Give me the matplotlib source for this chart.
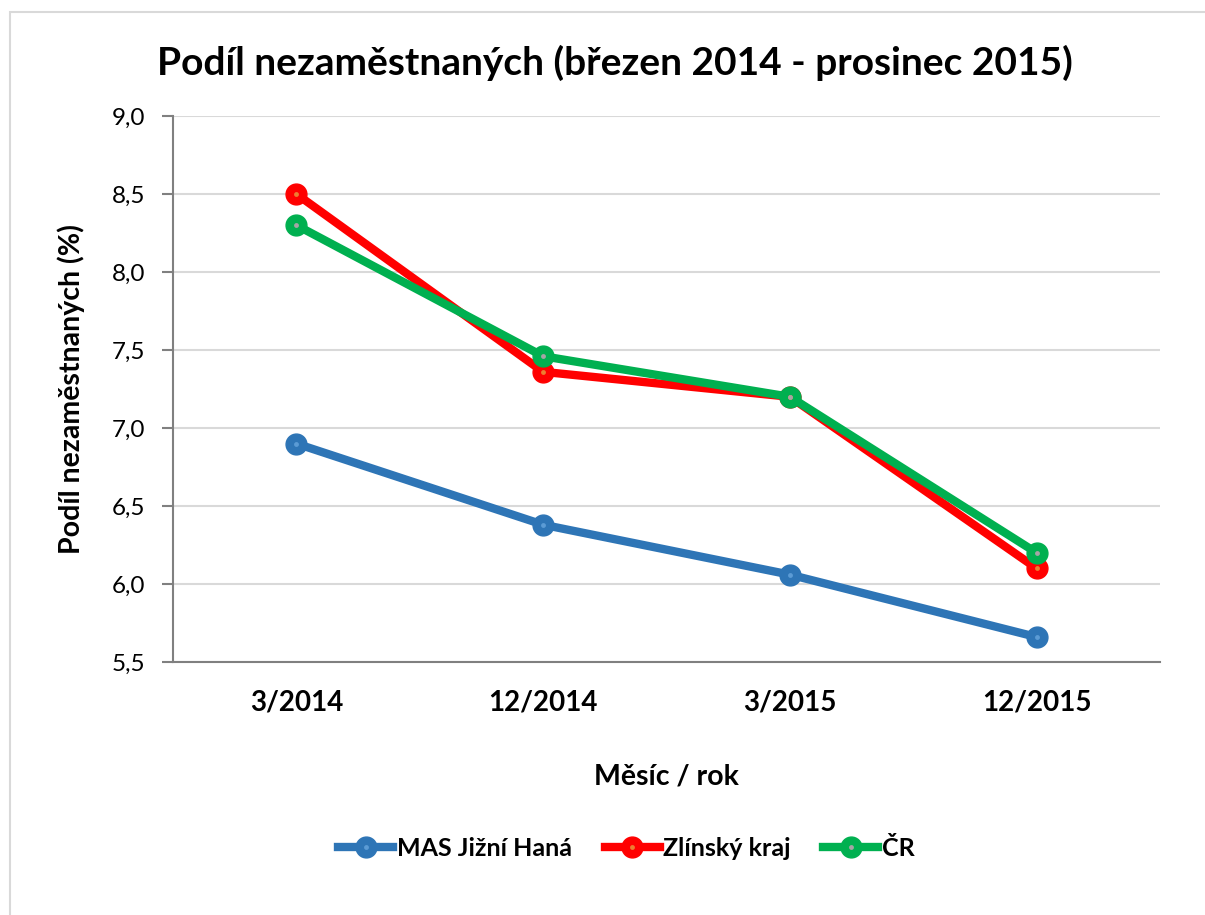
import numpy as np
import matplotlib.pyplot as plt
from matplotlib.patches import Rectangle
from matplotlib.lines import Line2D

plt.rcParams['font.family'] = ['Lato', 'DejaVu Sans']

# data
months = ["3/2014", "12/2014", "3/2015", "12/2015"]
mas = [6.9, 6.38, 6.06, 5.66]
zlin = [8.5, 7.36, 7.2, 6.1]
cr = [8.3, 7.46, 7.2, 6.2]
names = ["MAS Jižní Haná", "Zlínský kraj", "ČR"]
colors = ["#2E75B6", "#FF0000", "#00B050"]
dots = ["#5B9BD5", "#ED7D31", "#A5A5A5"]

fig = plt.figure(figsize=(12.05, 9.15), dpi=100)
fig.patches.append(Rectangle((0.008, -0.01), 1.1, 0.997, transform=fig.transFigure,
                             fill=False, edgecolor="#D9D9D9", linewidth=1.5))
ax = fig.add_axes([0.1436, 0.2765, 0.8191, 0.5967])

x = np.arange(len(months))
for vals, c, d in zip([mas, zlin, cr], colors, dots):
    ax.plot(x, vals, color=c, lw=6, marker="o", ms=15, mfc=c, mec=c,
            solid_capstyle="round", zorder=3)
    ax.plot(x, vals, ls="none", marker="o", ms=3.5, mfc=d, mec="none", zorder=4)

yt = np.arange(5.5, 9.01, 0.5)
ax.set_xlim(-0.5, 3.5)
ax.set_ylim(5.5, 9.0)
ax.set_yticks(yt)
ax.set_yticklabels([f"{v:.1f}".replace(".", ",") for v in yt], fontsize=17.5)
ax.set_xticks(x)
ax.set_xticklabels(months, fontsize=20, fontweight="bold")
ax.tick_params(axis="x", length=0, pad=20)
ax.tick_params(axis="y", length=8, color="#808080", width=1.5, pad=12)
ax.grid(axis="y", color="#D9D9D9", lw=1.5)
ax.set_axisbelow(True)
for s in ["top", "right"]:
    ax.spines[s].set_visible(False)
for s in ["left", "bottom"]:
    ax.spines[s].set_color("#808080")
    ax.spines[s].set_linewidth(1.5)

ax.set_xlabel("Měsíc / rok", fontsize=20.5, fontweight="bold", labelpad=34)
ax.set_ylabel("Podíl nezaměstnaných (%)", fontsize=20.5, fontweight="bold", labelpad=19)
fig.text(0.51, 0.931, "Podíl nezaměstnaných (březen 2014 - prosinec 2015)",
         ha="center", va="center", fontsize=28, fontweight="bold")

# legend
leg_h = []
for c, d in zip(colors, dots):
    leg_h.append((Line2D([], [], color=c, lw=6, marker="o", ms=15, mfc=c, mec=c),
                  Line2D([], [], ls="none", marker="o", ms=3.5, mfc=d, mec="none")))
fig.legend(leg_h, names, loc="center", bbox_to_anchor=(0.52, 0.073), ncol=3,
           frameon=False, prop={"size": 18, "weight": "bold"},
           handlelength=2.2, handletextpad=0.15, columnspacing=1.3)

fig.savefig("out.png", dpi=100)
